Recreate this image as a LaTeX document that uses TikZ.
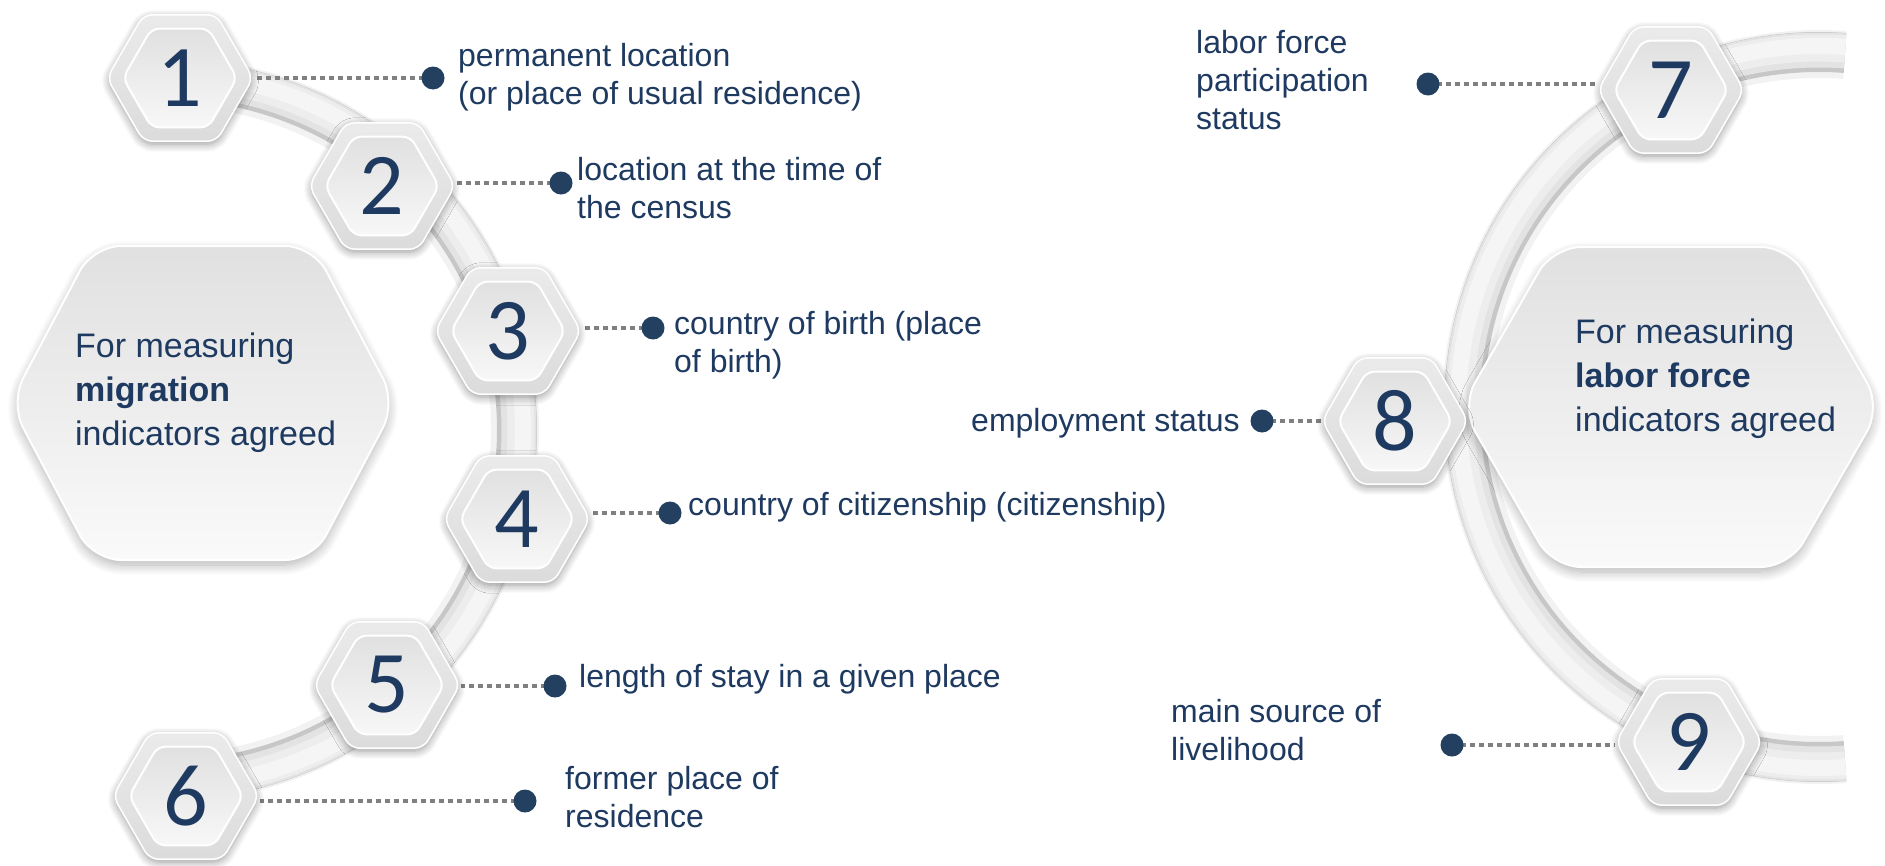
\documentclass[tikz,border=0pt]{standalone}
\usepackage{fontspec}
\setmainfont{Liberation Sans}
\newfontfamily\numfont{Carlito}
\usetikzlibrary{shapes.geometric,shadows.blur,calc}
\definecolor{navy}{HTML}{1F3A60}
\definecolor{dotc}{HTML}{244061}
\definecolor{dlinec}{HTML}{808080}
\pgfdeclarelayer{lines}
\pgfdeclarelayer{top}
\pgfsetlayers{main,lines,top}
\newcommand{\lbltxt}[1]{\begin{tabular}[t]{@{}l@{}}#1\end{tabular}}
\tikzset{
  hexout/.style={regular polygon, regular polygon sides=6, minimum size=146pt, inner sep=0pt,
    rounded corners=9pt, top color=black!8, bottom color=black!14, draw=white, line width=1.5pt,
    blur shadow={shadow blur radius=8pt, shadow xshift=0pt, shadow yshift=-3pt, shadow opacity=40, shadow blur steps=10}},
  hexin/.style={regular polygon, regular polygon sides=6, minimum size=114pt, inner sep=0pt,
    rounded corners=8pt, top color=black!12, bottom color=black!3, draw=white, line width=2pt,
    text=navy, font=\numfont\fontsize{88}{88}\selectfont},
  dotn/.style={circle, fill=dotc, minimum size=23pt, inner sep=0pt},
  dotline/.style={draw=dlinec, line width=4pt, dash pattern=on 5pt off 4pt},
  lbl/.style={anchor=base west, inner sep=0pt, text=navy, font=\fontsize{32}{38}\selectfont},
  bigtxt/.style={anchor=base west, inner sep=0pt, text=navy, font=\fontsize{34}{44}\selectfont},
  bighex/.style={rounded corners=28pt, top color=black!12, bottom color=black!2, draw=white, line width=2pt,
    blur shadow={shadow blur radius=10pt, shadow xshift=0pt, shadow yshift=-5pt, shadow opacity=30, shadow blur steps=12}},
  bandshadow/.style={line width=48pt, draw=black, draw opacity=0.05},
  bandedge/.style={line width=40pt, draw=black!22},
  bandmid/.style={line width=35pt, draw=black!11},
  bandcore/.style={line width=27pt, draw=black!7},
  bandhi/.style={line width=16pt, draw=black!4},
}
\begin{document}
\begin{tikzpicture}[x=1pt,y=-1pt]
\useasboundingbox (0,0) rectangle (1885,865);

% arcs: left centre (167,430) r 350, right centre (1819,407) r 355
\coordinate (lc) at (167,430);
\coordinate (rc) at (1819,407);
\draw[bandshadow] (lc) ++(92:348pt) arc[start angle=92, end angle=-92, radius=348pt];
\draw[bandedge] (lc) ++(92:350pt) arc[start angle=92, end angle=-92, radius=350pt];
\draw[bandmid] (lc) ++(92:352pt) arc[start angle=92, end angle=-92, radius=352pt];
\draw[bandcore] (lc) ++(92:354pt) arc[start angle=92, end angle=-92, radius=354pt];
\draw[bandhi] (lc) ++(92:356pt) arc[start angle=92, end angle=-92, radius=356pt];
\draw[bandshadow] (rc) ++(85.8:353pt) arc[start angle=85.8, end angle=274.2, radius=353pt];
\draw[bandedge] (rc) ++(85.8:355pt) arc[start angle=85.8, end angle=274.2, radius=355pt];
\draw[bandmid] (rc) ++(85.8:357pt) arc[start angle=85.8, end angle=274.2, radius=357pt];
\draw[bandcore] (rc) ++(85.8:359pt) arc[start angle=85.8, end angle=274.2, radius=359pt];
\draw[bandhi] (rc) ++(85.8:361pt) arc[start angle=85.8, end angle=274.2, radius=361pt];

\begin{pgfonlayer}{top}
% big hexagons
\path[bighex] (10,403) -- (93,246) -- (313,246) -- (396,403) -- (313,560) -- (93,560) -- cycle;
\node[bigtxt] (mig) at (75,357) {\lbltxt{For measuring\\\textbf{migration}\\indicators agreed}};
\path[bighex] (1461,407) -- (1553,247) -- (1789,247) -- (1881,407) -- (1789,567) -- (1553,567) -- cycle;
\node[bigtxt] (lab) at (1575,343) {\lbltxt{For measuring\\\textbf{labor force}\\indicators agreed}};

% small hexagons
\foreach \n/\px/\py in {1/180/78, 2/382/186, 3/508/331, 4/517/519, 5/387/685, 6/186/796, 7/1671/90, 8/1395/421, 9/1689/742}{
  \node[hexout] (o\n) at (\px,\py) {};
  \node[hexin] (h\n) at (\px,\py) {\n};
}

% dots
\node[dotn] (d1) at (433,78) {};
\node[dotn] (d2) at (561,183) {};
\node[dotn] (d3) at (653,328) {};
\node[dotn] (d4) at (670,513) {};
\node[dotn] (d5) at (555,686) {};
\node[dotn] (d6) at (525,801) {};
\node[dotn] (d7) at (1428,84) {};
\node[dotn] (d8) at (1262,421) {};
\node[dotn] (d9) at (1452,745) {};

% labels
\node[lbl] (t1) at (458,66) {\lbltxt{permanent location\\(or place of usual residence)}};
\node[lbl] (t2) at (577,180) {\lbltxt{location at the time of\\the census}};
\node[lbl] (t3) at (674,334) {\lbltxt{country of birth (place\\of birth)}};
\node[lbl] (t4) at (688,515) {\lbltxt{country of citizenship (citizenship)}};
\node[lbl] (t5) at (579,687) {\lbltxt{length of stay in a given place}};
\node[lbl] (t6) at (565,789) {\lbltxt{former place of\\residence}};
\node[lbl] (t7) at (1196,53) {\lbltxt{labor force\\participation\\status}};
\node[lbl] (t8) at (971,431) {\lbltxt{employment status}};
\node[lbl] (t9) at (1171,722) {\lbltxt{main source of\\livelihood}};
\end{pgfonlayer}

% connectors
\begin{pgfonlayer}{lines}
\foreach \n in {1,...,6}{
  \draw[dotline] (d\n.center) -- (d\n -| o\n.east);
}
\foreach \n in {7,8,9}{
  \draw[dotline] (d\n.center) -- (d\n -| o\n.west);
}
\end{pgfonlayer}
\end{tikzpicture}
\end{document}
